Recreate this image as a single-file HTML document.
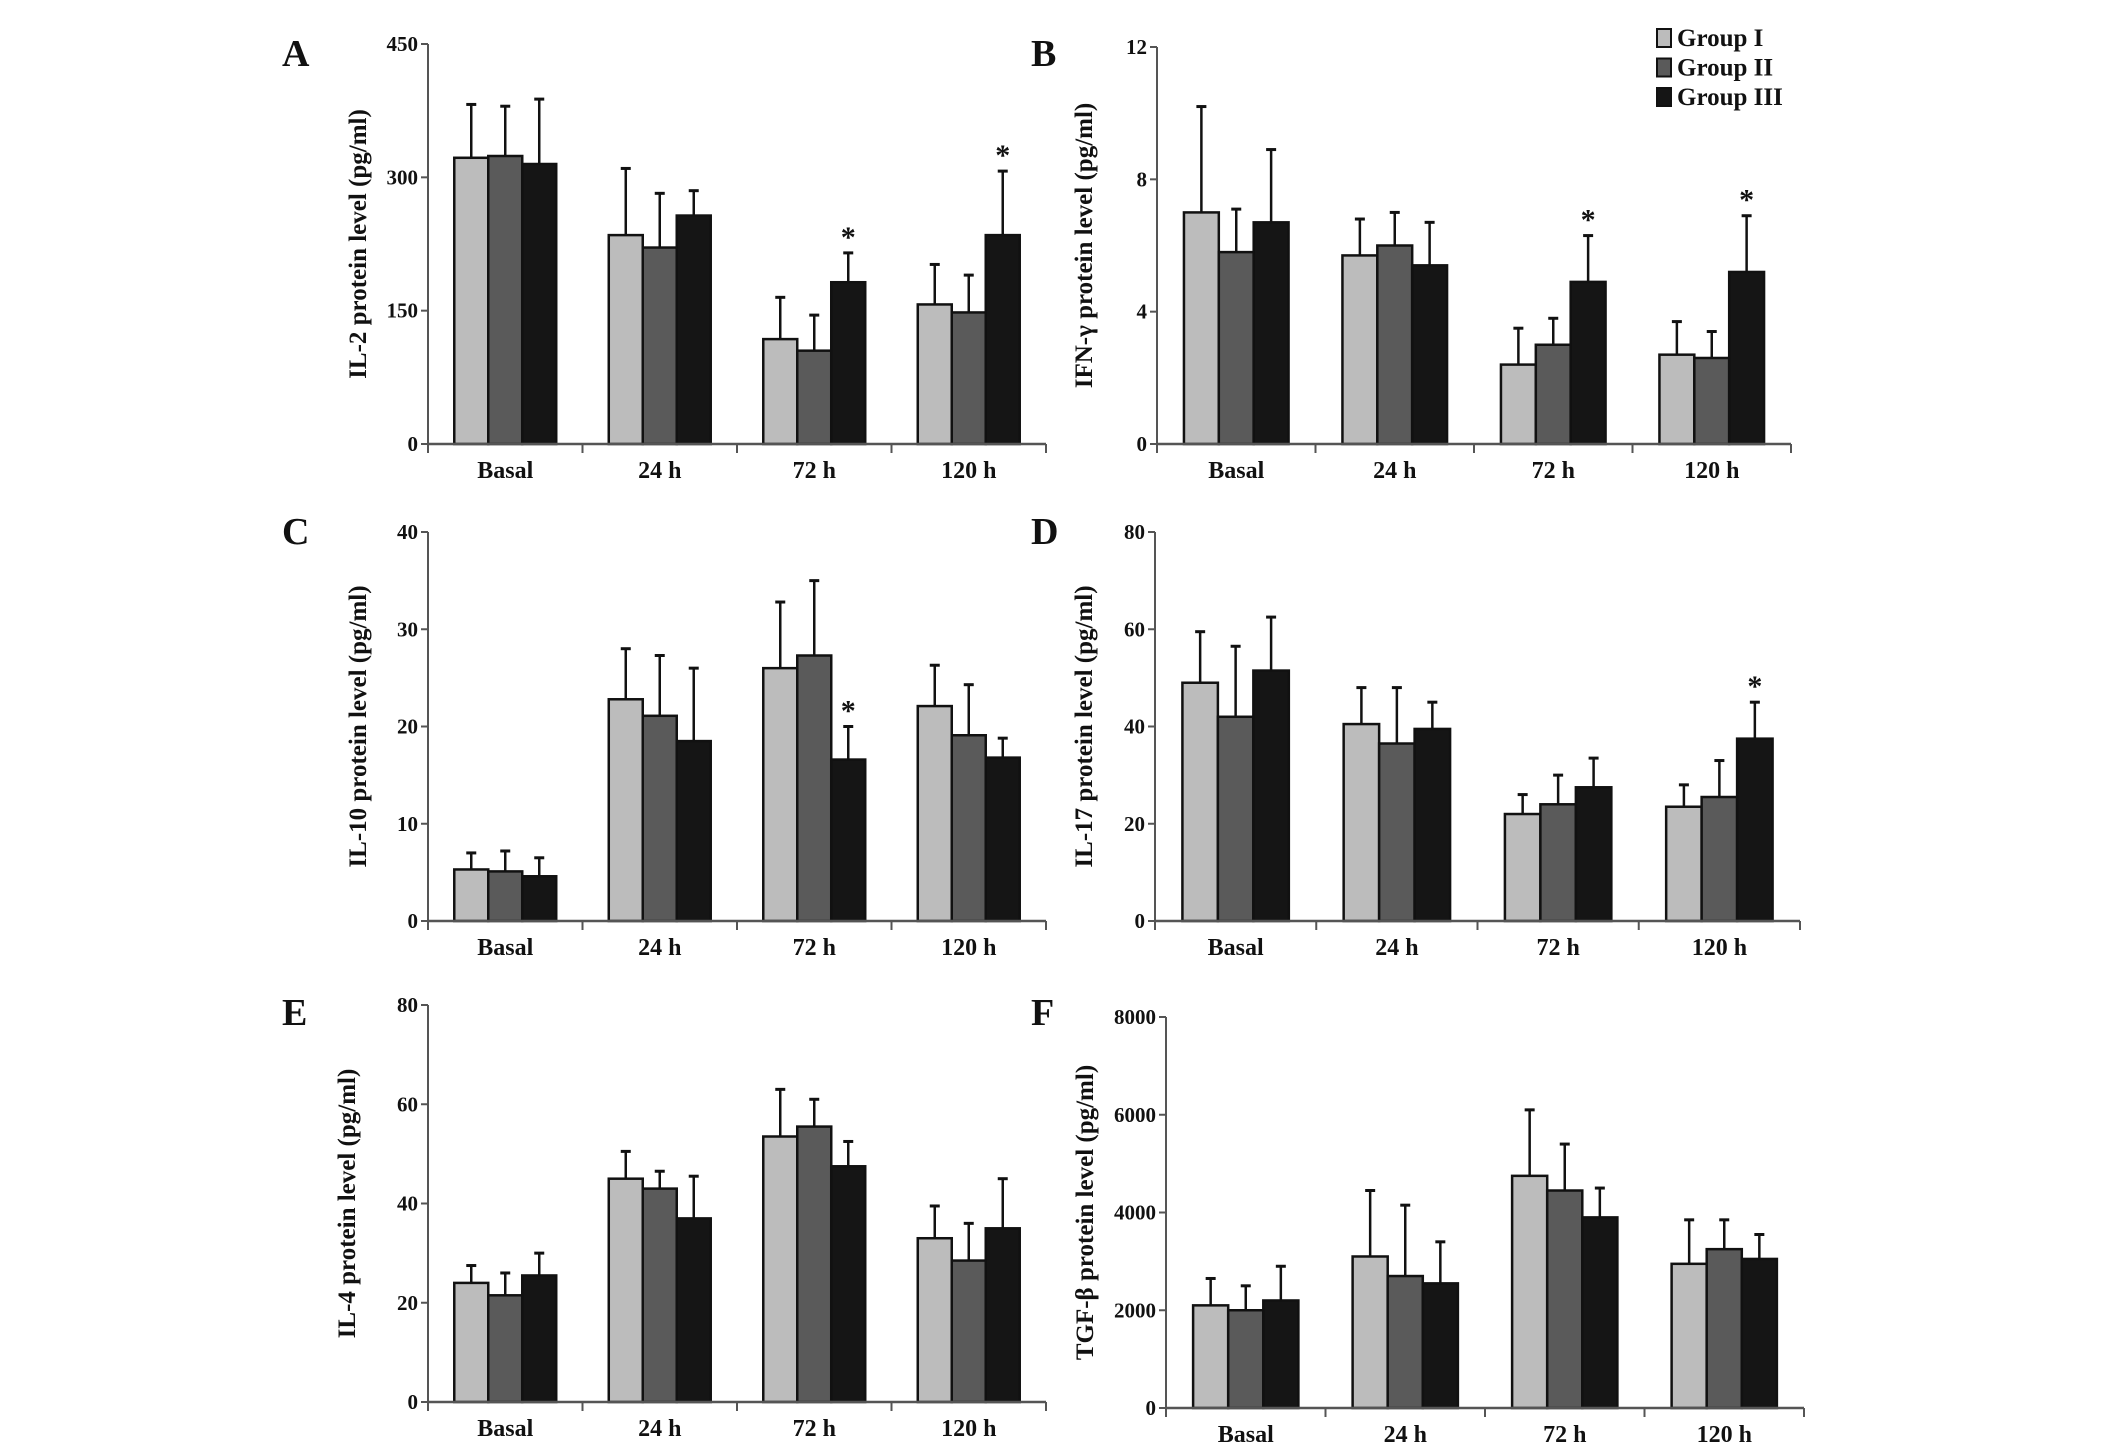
<!DOCTYPE html>
<html><head><meta charset="utf-8"><style>
html,body{margin:0;padding:0;background:#fff;}
svg{display:block;}
text{font-family:"Liberation Serif",serif;font-weight:bold;fill:#111;}
</style></head><body>
<svg id="fig" width="2126" height="1446" viewBox="0 0 2126 1446" xmlns="http://www.w3.org/2000/svg"></svg>
<script>
const categories = ["Basal","24 h","72 h","120 h"];
const groupNames = ["Group I","Group II","Group III"];
// Panel A IL-2
const aG1=[322,235,118,157], aG2=[324,221,105,148], aG3=[315,257,182,235];
const aT1=[382,310,165,202], aT2=[380,282,145,190], aT3=[388,285,215,307];
const aTicks=[0,150,300,450]; const aStars=[2,3];
// Panel B IFN-g
const bG1=[7.0,5.7,2.4,2.7], bG2=[5.8,6.0,3.0,2.6], bG3=[6.7,5.4,4.9,5.2];
const bT1=[10.2,6.8,3.5,3.7], bT2=[7.1,7.0,3.8,3.4], bT3=[8.9,6.7,6.3,6.9];
const bTicks=[0,4,8,12]; const bStars=[2,3];
// Panel C IL-10
const cG1=[5.3,22.8,26,22.1], cG2=[5.1,21.1,27.3,19.1], cG3=[4.6,18.5,16.6,16.8];
const cT1=[7,28,32.8,26.3], cT2=[7.2,27.3,35,24.3], cT3=[6.5,26,20,18.8];
const cTicks=[0,10,20,30,40]; const cStars=[2];
// Panel D IL-17
const dG1=[49,40.5,22,23.5], dG2=[42,36.5,24,25.5], dG3=[51.5,39.5,27.5,37.5];
const dT1=[59.5,48,26,28], dT2=[56.5,48,30,33], dT3=[62.5,45,33.5,45];
const dTicks=[0,20,40,60,80]; const dStars=[3];
// Panel E IL-4
const eG1=[24,45,53.5,33], eG2=[21.5,43,55.5,28.5], eG3=[25.5,37,47.5,35];
const eT1=[27.5,50.5,63,39.5], eT2=[26,46.5,61,36], eT3=[30,45.5,52.5,45];
const eTicks=[0,20,40,60,80]; const eStars=[];
// Panel F TGF-b
const fG1=[2100,3100,4750,2950], fG2=[2000,2700,4450,3250], fG3=[2200,2550,3900,3050];
const fT1=[2650,4450,6100,3850], fT2=[2500,4150,5400,3850], fT3=[2900,3400,4500,3550];
const fTicks=[0,2000,4000,6000,8000]; const fStars=[];

const NS="http://www.w3.org/2000/svg";
const svg=document.getElementById('fig');
const fills=["#bcbcbc","#5a5a5a","#151515"];
function mk(tag,attrs,parent){const e=document.createElementNS(NS,tag);for(const k in attrs)e.setAttribute(k,attrs[k]);(parent||svg).appendChild(e);return e;}

const panels=[
 {id:'a',L:'A',title:'IL-2 protein level (pg/ml)',x0:428,x1:1046,yt:44,y0:444,lx:282,ly:66,tx:366,g:[aG1,aG2,aG3],t:[aT1,aT2,aT3],ticks:aTicks,stars:aStars},
 {id:'b',L:'B',title:'IFN-γ protein level (pg/ml)',x0:1157,x1:1791,yt:47,y0:444,lx:1031,ly:66,tx:1092,g:[bG1,bG2,bG3],t:[bT1,bT2,bT3],ticks:bTicks,stars:bStars},
 {id:'c',L:'C',title:'IL-10 protein level (pg/ml)',x0:428,x1:1046,yt:532,y0:921,lx:282,ly:544,tx:366,g:[cG1,cG2,cG3],t:[cT1,cT2,cT3],ticks:cTicks,stars:cStars},
 {id:'d',L:'D',title:'IL-17 protein level (pg/ml)',x0:1155,x1:1800,yt:532,y0:921,lx:1031,ly:544,tx:1092,g:[dG1,dG2,dG3],t:[dT1,dT2,dT3],ticks:dTicks,stars:dStars},
 {id:'e',L:'E',title:'IL-4 protein level (pg/ml)',x0:428,x1:1046,yt:1005,y0:1402,lx:282,ly:1025,tx:355,g:[eG1,eG2,eG3],t:[eT1,eT2,eT3],ticks:eTicks,stars:eStars},
 {id:'f',L:'F',title:'TGF-β protein level (pg/ml)',x0:1166,x1:1804,yt:1017,y0:1408,lx:1031,ly:1025,tx:1093,g:[fG1,fG2,fG3],t:[fT1,fT2,fT3],ticks:fTicks,stars:fStars}
];

panels.forEach(p=>{
 const grp=mk('g',{});
 
 
 const max=p.ticks[p.ticks.length-1];
 const Y=v=>p.y0-(v/max)*(p.y0-p.yt);
 const gw=(p.x1-p.x0)/categories.length;
 const bw=gw*0.22;
 const lbl=mk('text',{x:p.lx,y:p.ly,'font-size':38},grp);lbl.textContent=p.L;
 
 
 // bars
 p.g.forEach((series,s)=>{
  series.forEach((v,i)=>{
   const cx=p.x0+gw*(i+0.5);
   const bx=cx-1.5*bw+s*bw;
   const top=Y(p.t[s][i]);
   const ec=bx+bw/2;
   const el=mk('line',{x1:ec,x2:ec,y1:top,y2:Y(v),stroke:'#111','stroke-width':2.5},grp);
   
   
   mk('line',{x1:ec-5,x2:ec+5,y1:top,y2:top,stroke:'#111','stroke-width':3},grp);
   const r=mk('rect',{x:bx,y:Y(v),width:bw,height:p.y0-Y(v),fill:fills[s],stroke:'#111','stroke-width':2.5},grp);
   
   
   if(s===2 && p.stars.indexOf(i)>=0){
    const st=mk('text',{x:ec,y:top-6,'font-size':30,'text-anchor':'middle'},grp);st.textContent='*';
    
    
   }
  });
 });
 // axes
 mk('line',{x1:p.x0,x2:p.x0,y1:p.yt,y2:p.y0,stroke:'#555','stroke-width':2},grp);
 mk('line',{x1:p.x0,x2:p.x1,y1:p.y0,y2:p.y0,stroke:'#555','stroke-width':2.5},grp);
 p.ticks.forEach(t=>{
  mk('line',{x1:p.x0-7,x2:p.x0,y1:Y(t),y2:Y(t),stroke:'#555','stroke-width':2},grp);
  const tl=mk('text',{x:p.x0-10,y:Y(t)+7,'font-size':21,'text-anchor':'end'},grp);tl.textContent=t;
  
  
 });
 for(let i=0;i<=categories.length;i++){
  const x=p.x0+gw*i;
  mk('line',{x1:x,x2:x,y1:p.y0,y2:p.y0+9,stroke:'#555','stroke-width':2},grp);
 }
 categories.forEach((c,i)=>{
  const tl=mk('text',{x:p.x0+gw*(i+0.5),y:p.y0+34,'font-size':24,'text-anchor':'middle'},grp);tl.textContent=c;
  
  
 });
 const yt=mk('text',{x:0,y:0,'font-size':25,'text-anchor':'middle',transform:'translate('+p.tx+','+((p.yt+p.y0)/2)+') rotate(-90)'},grp);
 yt.textContent=p.title;
 
 
});

// legend
const lg=mk('g',{});


groupNames.forEach((n,i)=>{
 const y=37+i*29.5;
 const sq=mk('rect',{x:1657,y:y-8,width:14,height:18,fill:fills[i],stroke:'#111','stroke-width':2},lg);
 
 
 const t=mk('text',{x:1677,y:y+9,'font-size':25},lg);t.textContent=n;
 
 
});
</script>
</body></html>
